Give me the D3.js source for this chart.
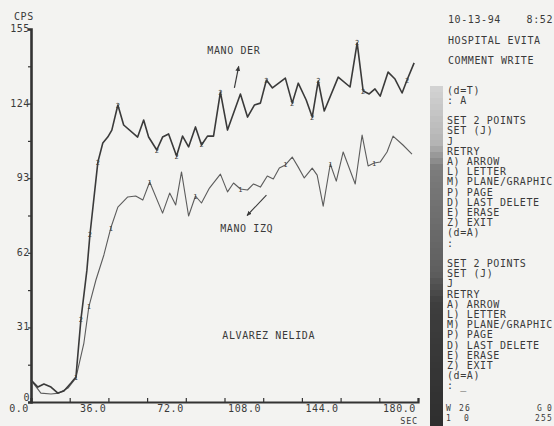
<!DOCTYPE html>
<html>
<head>
<meta charset="utf-8">
<script src="https://cdn.jsdelivr.net/npm/d3@7/dist/d3.min.js"></script>
<style>
body { margin: 0; background: #f3f3f1; }
svg text { font-family: "DejaVu Sans Mono", monospace; font-size: 10px; letter-spacing: 0.6px; fill: #3a3a3a; }
svg text.small { font-size: 8px; letter-spacing: 1.2px; }
</style>
</head>
<body>
<div id="vis_container"></div>
<script>
// renogram curves, counts per second
var der_sec = [0, 3.2, 6.0, 9.3, 12.5, 15.3, 18.6, 20.9, 23.2, 26.0, 27.4, 31.1, 33.4, 35.7, 37.6, 40.4, 43.1, 49.6, 52.4, 54.7,
    58.5, 61.2, 64.0, 67.7, 70.5, 73.3, 76.5, 79.3, 82.1, 84.9, 88.1, 91.4, 97.4, 100.7, 103.9, 106.7, 109.5, 112.3, 118.3, 121.5,
    124.3, 128.0, 130.8, 133.6, 136.4, 142.9, 148.4, 151.7, 154.5, 157.3, 160.0, 162.4, 166.1, 169.3, 172.6, 174.9, 178.2];
var der_cps = [9.1, 6.2, 7.5, 6.2, 3.7, 4.6, 7.9, 10.4, 34.1, 54.8, 69.4, 99.7, 107.6, 110.1, 113.0, 123.4, 115.1, 110.1, 117.2, 110.1,
    104.7, 110.1, 111.4, 102.2, 110.5, 106.0, 114.3, 106.8, 110.5, 110.5, 128.8, 113.0, 128.0, 118.4, 123.4, 124.2, 133.8, 130.5, 134.6, 124.2,
    132.5, 125.5, 118.4, 133.4, 120.9, 135.0, 130.9, 149.2, 129.2, 128.0, 130.1, 127.1, 137.1, 134.2, 128.4, 133.8, 140.9];
var der_marks = [8, 10, 11, 15, 20, 23, 27, 30, 36, 39, 42, 43, 47, 48, 55];

var izq_sec = [0, 4.6, 9.3, 13.0, 17.2, 20.9, 24.6, 26.9, 30.2, 33.9, 37.1, 40.4, 45.0, 48.7, 52.0, 55.2, 61.2, 64.5, 67.3, 70.0,
    73.3, 76.5, 79.3, 83.0, 88.1, 91.4, 94.2, 97.4, 100.7, 103.5, 106.7, 109.9, 112.7, 115.5, 118.3, 121.5, 124.3, 127.1, 130.8, 133.1,
    135.9, 139.2, 142.0, 145.2, 150.8, 154.0, 156.8, 159.6, 162.4, 165.6, 168.4, 173.0, 177.2];
var izq_cps = [9.1, 3.7, 3.3, 3.7, 5.8, 10.0, 24.5, 39.5, 50.7, 61.1, 72.3, 81.0, 85.2, 85.6, 83.9, 91.4, 78.5, 86.8, 81.9, 95.6,
    77.3, 85.6, 82.7, 88.9, 94.7, 87.3, 91.0, 88.5, 88.1, 90.6, 89.3, 93.9, 92.7, 97.2, 98.5, 101.8, 97.6, 93.1, 97.2, 94.3,
    81.4, 98.9, 91.8, 103.9, 90.6, 110.9, 98.1, 99.3, 99.7, 103.9, 110.5, 106.8, 103.0];
var izq_marks = [5, 7, 10, 15, 21, 27, 34, 41, 47];

var x_ticks = [0, 36, 72, 108, 144, 180];
var y_ticks = [0, 31, 62, 93, 124, 155];

var header_lines = ["HOSPITAL EVITA", "COMMENT WRITE"];
var menu_lines = ["(d=T)", ": A", "", "SET 2 POINTS", "SET (J)", "J", "RETRY", "A) ARROW", "L) LETTER", "M) PLANE/GRAPHIC",
    "P) PAGE", "D) LAST DELETE", "E) ERASE", "Z) EXIT", "(d=A)", ":", "", "SET 2 POINTS", "SET (J)", "J", "RETRY",
    "A) ARROW", "L) LETTER", "M) PLANE/GRAPHIC", "P) PAGE", "D) LAST DELETE", "E) ERASE", "Z) EXIT", "(d=A)", ": _"];

var width = 554;
var height = 426;

var x = d3.scaleLinear().domain([0, 180]).range([31, 418]);
var y = d3.scaleLinear().domain([0, 155]).range([402, 29]);

var svg = d3.select("#vis_container").append("svg")
    .attr("width", width)
    .attr("height", height);

svg.append("rect").attr("width", width).attr("height", height).style("fill", "#f3f3f1");

// grey wedge next to the menu
var bar_y = d3.range(86, 426, 6);
var bar_color = d3.scaleLinear()
    .domain([86, 140, 165, 270, 300, 426])
    .range(["#d2d2d2", "#b4b4b4", "#7c7c7c", "#5e5e5e", "#3e3e3e", "#2e2e2e"]);
svg.selectAll(".wedge").data(bar_y).enter().append("rect")
    .attr("class", "wedge")
    .attr("x", 430)
    .attr("y", function(d) { return d; })
    .attr("width", 13)
    .attr("height", 6.5)
    .style("fill", function(d) { return bar_color(d); });

// axes
var xAxis = svg.append("g")
    .attr("transform", "translate(0," + y(0) + ")")
    .call(d3.axisBottom(x).tickValues(d3.range(0, 181, 18)).tickSize(-4).tickFormat(""));
xAxis.select(".domain").style("stroke", "#333").style("stroke-width", 2.2);
xAxis.selectAll(".tick line").style("stroke", "#333").style("stroke-width", 1.2);

svg.selectAll(".xlab").data(x_ticks).enter().append("text")
    .attr("class", "xlab")
    .attr("x", function(d) { return x(d) - 2; })
    .attr("y", y(0) + 10)
    .style("text-anchor", "end")
    .text(function(d) { return d.toFixed(1); });

svg.append("text").attr("x", x(180)).attr("y", 424)
    .style("text-anchor", "end").style("font-size", "8.5px").style("letter-spacing", "0.8px")
    .text("SEC");

var yAxis = svg.append("g")
    .attr("transform", "translate(" + x(0) + ",0)")
    .call(d3.axisLeft(y).tickValues(d3.range(0, 156, 15.5)).tickSize(3).tickFormat(""));
yAxis.select(".domain").style("stroke", "#333").style("stroke-width", 2.6);
yAxis.selectAll(".tick line").style("stroke", "#333").style("stroke-width", 1.2);

svg.selectAll(".ylab").data(y_ticks).enter().append("text")
    .attr("class", "ylab")
    .attr("x", x(0) - 1)
    .attr("y", function(d) { return y(d) + (d == 0 ? -1 : 3); })
    .style("text-anchor", "end")
    .text(function(d) { return d; });

svg.append("text").attr("x", 14).attr("y", 20).text("CPS");

// curves
var line = d3.line()
    .x(function(d) { return x(d[0]); })
    .y(function(d) { return y(d[1]); });

var der = d3.zip(der_sec, der_cps);
var izq = d3.zip(izq_sec, izq_cps);

svg.append("path").datum(izq)
    .attr("d", line)
    .style("fill", "none")
    .style("stroke", "#5c5c5c")
    .style("stroke-width", 1.1)
    .style("stroke-linejoin", "round");

svg.append("path").datum(der)
    .attr("d", line)
    .style("fill", "none")
    .style("stroke", "#3a3a3a")
    .style("stroke-width", 1.6)
    .style("stroke-linejoin", "round");

svg.selectAll(".dermark").data(der_marks).enter().append("text")
    .attr("class", "dermark")
    .attr("x", function(i) { return x(der[i][0]); })
    .attr("y", function(i) { return y(der[i][1]) + 2.5; })
    .style("text-anchor", "middle")
    .style("font-size", "7px")
    .style("letter-spacing", "0")
    .text("2");

svg.selectAll(".izqmark").data(izq_marks).enter().append("text")
    .attr("class", "izqmark")
    .attr("x", function(i) { return x(izq[i][0]); })
    .attr("y", function(i) { return y(izq[i][1]) + 2.5; })
    .style("text-anchor", "middle")
    .style("font-size", "7px")
    .style("letter-spacing", "0")
    .text("1");

// hand written notes
svg.append("text").attr("x", x(82)).attr("y", y(144.5)).text("MANO DER");
svg.append("text").attr("x", x(88)).attr("y", y(70.5)).text("MANO IZQ");
svg.append("text").attr("x", x(89)).attr("y", y(26)).text("ALVAREZ NELIDA");

svg.append("defs").append("marker")
    .attr("id", "head")
    .attr("viewBox", "0 0 10 10")
    .attr("refX", 8).attr("refY", 5)
    .attr("markerWidth", 5).attr("markerHeight", 5)
    .attr("orient", "auto")
    .append("path").attr("d", "M0,1 L9,5 L0,9 Z").style("fill", "#3a3a3a");

svg.append("line")
    .attr("x1", x(94.6)).attr("y1", y(130.5))
    .attr("x2", x(96.6)).attr("y2", y(139.5))
    .style("stroke", "#3a3a3a").style("stroke-width", 1.2)
    .attr("marker-end", "url(#head)");

svg.append("line")
    .attr("x1", x(109.5)).attr("y1", y(86))
    .attr("x2", x(100.5)).attr("y2", y(77.5))
    .style("stroke", "#3a3a3a").style("stroke-width", 1.1)
    .attr("marker-end", "url(#head)");

// right hand terminal text
svg.append("text").attr("x", 448).attr("y", 23).text("10-13-94");
svg.append("text").attr("x", 553).attr("y", 23).style("text-anchor", "end").text("8:52");

svg.selectAll(".head").data(header_lines).enter().append("text")
    .attr("class", "head")
    .attr("x", 448)
    .attr("y", function(d, i) { return 44 + i * 20; })
    .text(function(d) { return d; });

svg.selectAll(".menu").data(menu_lines).enter().append("text")
    .attr("class", "menu")
    .attr("x", 447)
    .attr("y", function(d, i) { return 93.5 + i * 10.2; })
    .text(function(d) { return d; });

svg.append("text").attr("class", "small").attr("x", 446).attr("y", 411).text("W");
svg.append("text").attr("class", "small").attr("x", 459).attr("y", 411).text("26");
svg.append("text").attr("class", "small").attr("x", 537).attr("y", 411).text("G");
svg.append("text").attr("class", "small").attr("x", 553).attr("y", 411).style("text-anchor", "end").text("0");
svg.append("text").attr("class", "small").attr("x", 446).attr("y", 421).text("1");
svg.append("text").attr("class", "small").attr("x", 464).attr("y", 421).text("0");
svg.append("text").attr("class", "small").attr("x", 553).attr("y", 421).style("text-anchor", "end").text("255");
</script>
</body>
</html>
